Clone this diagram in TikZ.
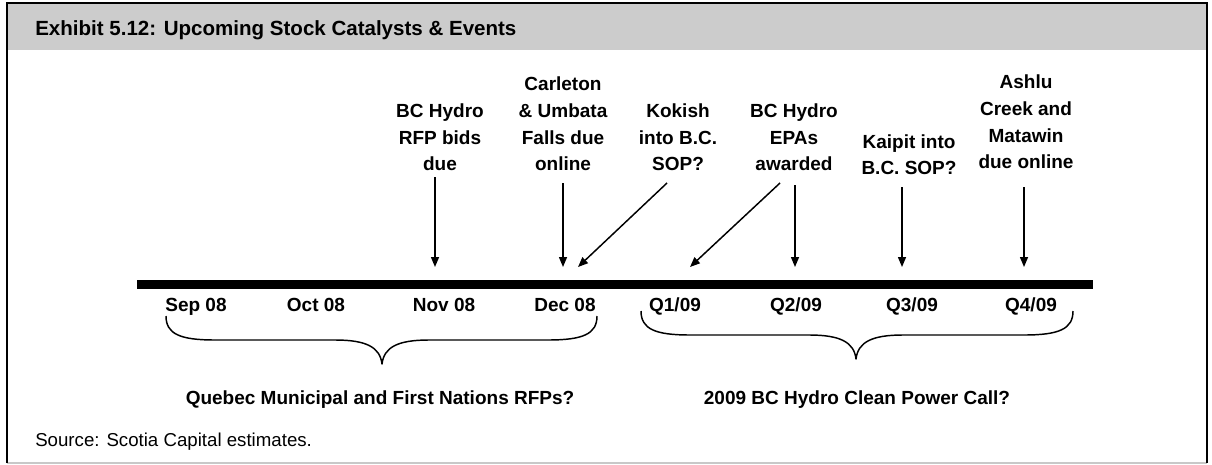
\documentclass[tikz,border=0pt]{standalone}
\usepackage{fontspec}
\setmainfont{Liberation Sans}
\usetikzlibrary{arrows.meta}
\definecolor{hdr}{HTML}{CCCCCC}
\definecolor{btm}{HTML}{C8C8C8}
\begin{document}
\begin{tikzpicture}[x=0.75pt,y=-0.75pt,
  lbl/.style={font=\fontsize{14.25pt}{19.9pt}\selectfont\bfseries, align=center, inner sep=0pt, anchor=south},
  datelbl/.style={font=\fontsize{14.25pt}{17pt}\selectfont\bfseries, inner sep=0pt, anchor=base},
  arr/.style={line width=1.1pt, -{Triangle[length=7.5pt,width=6pt]}},
  bracepath/.style={line width=1.1pt, line join=round}]
\useasboundingbox (0,0) rectangle (1212,464);
% header band and frame
\fill[hdr] (7,3) rectangle (1207,50);
\draw[btm, line width=1pt] (7,463) -- (1207,463);
\draw[line width=1.9pt] (7,463) -- (7,3) -- (1207,3) -- (1207,463);
\node[anchor=base west, inner sep=0pt, font=\fontsize{15.4pt}{18pt}\selectfont\bfseries] (title) at (35,35) {Exhibit 5.12: Upcoming Stock Catalysts \& Events};
% timeline bar
\node[fill=black, inner sep=0pt, minimum width=717pt, minimum height=6.75pt] (bar) at (615,284.5) {};
% event labels
\node[lbl] (rfp) at (440,171) {BC Hydro\\RFP bids\\due};
\node[lbl] (carl) at (563,171) {Carleton\\\& Umbata\\Falls due\\online};
\node[lbl] (kok) at (678,171) {Kokish\\into B.C.\\SOP?};
\node[lbl] (epa) at (794,171) {BC Hydro\\EPAs\\awarded};
\node[lbl] (kai) at (909,175) {Kaipit into\\B.C. SOP?};
\node[lbl] (ash) at (1026,169) {Ashlu\\Creek and\\Matawin\\due online};
% arrow tips on the bar
\coordinate (t1) at (435,267);
\coordinate (t2) at (563,267);
\coordinate (t3) at (578,267);
\coordinate (t4) at (690,267);
\coordinate (t5) at (795,267);
\coordinate (t6) at (902,267);
\coordinate (t7) at (1024,267);
\draw[arr] ([xshift=-3.75pt,yshift=-4.5pt]rfp.south) -- (t1);
\draw[arr] ([yshift=-9pt]carl.south) -- (t2);
\draw[arr] ([xshift=-8.25pt,yshift=-9pt]kok.south) -- (t3);
\draw[arr] ([xshift=-10.5pt,yshift=-9pt]epa.south) -- (t4);
\draw[arr] ([xshift=0.75pt,yshift=-10.5pt]epa.south) -- (t5);
\draw[arr] ([xshift=-5.25pt,yshift=-9pt]kai.south) -- (t6);
\draw[arr] ([xshift=-1.5pt,yshift=-13.5pt]ash.south) -- (t7);
% period labels
\node[datelbl] (sep) at (196,311) {Sep 08};
\node[datelbl] (oct) at (316,311) {Oct 08};
\node[datelbl] (nov) at (444,311) {Nov 08};
\node[datelbl] (dec) at (565,311) {Dec 08};
\node[datelbl] (qa) at (675,311) {Q1/09};
\node[datelbl] (qb) at (796,311) {Q2/09};
\node[datelbl] (qc) at (912,311) {Q3/09};
\node[datelbl] (qd) at (1031,311) {Q4/09};
% braces
\draw[bracepath] (166,316) .. controls (166,334) and (180,340) .. (215,340) -- (335,340)
  .. controls (366,340) and (380,347) .. (382,364)
  .. controls (384,347) and (398,340) .. (429,340) -- (548,340)
  .. controls (583,340) and (597,334) .. (597,316);
\draw[bracepath] (641,311) .. controls (641,329) and (655,335) .. (690,335) -- (809,335)
  .. controls (840,335) and (854,342) .. (856,359)
  .. controls (858,342) and (872,335) .. (903,335) -- (1024,335)
  .. controls (1059,335) and (1073,329) .. (1073,311);
\node[datelbl] (qrfp) at (380,404) {Quebec Municipal and First Nations RFPs?};
\node[datelbl] (bcall) at (857,404) {2009 BC Hydro Clean Power Call?};
\node[anchor=base west, inner sep=0pt, font=\fontsize{14pt}{17pt}\selectfont] (src) at (35,446) {Source: Scotia Capital estimates.};
\end{tikzpicture}
\end{document}
